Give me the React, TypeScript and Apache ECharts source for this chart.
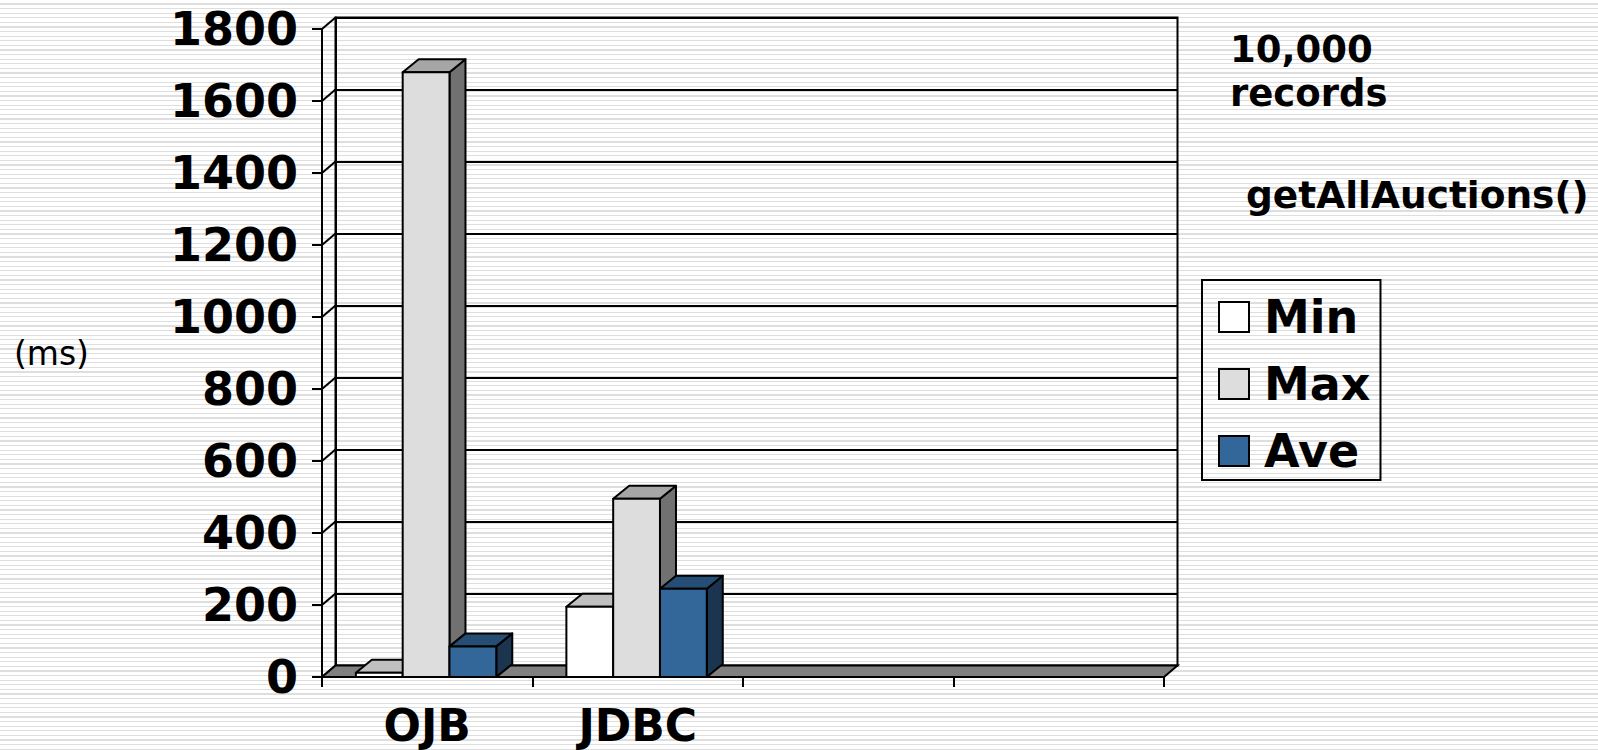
import React, { useEffect, useRef } from "react";
import * as echarts from "echarts";

// ---------- data ----------
const categories = ["OJB", "JDBC", "", ""];
const seriesNames = ["Min", "Max", "Ave"];
const minValues = [12, 195];
const maxValues = [1680, 495];
const aveValues = [85, 245];
const yTicks = [0, 200, 400, 600, 800, 1000, 1200, 1400, 1600, 1800];
const titleLines = ["10,000\nrecords", "getAllAuctions()"];
const yUnit = "(ms)";

// ---------- style / layout ----------
const FONT = "DejaVu Sans, Verdana, sans-serif";
const GRID = { left: 322, top: 29, width: 842, height: 648 };
const WALL_DX = 13.5;
const WALL_DY = 11.5;
const BAR_DX = 16;
const BAR_DY = 13;
const BAR_RATIO = 0.2223;
const CLUSTER_OFFSET = 0.339;
const LW = 2;

const faceColors = [
  { front: "#FFFFFF", top: "#C0C0C0", side: "#808080" },
  { front: "#DDDDDD", top: "#A6A6A6", side: "#717171" },
  { front: "#336699", top: "#264D73", side: "#1B3550" },
];

function barSeries(name: string, values: number[], idx: number) {
  const c = faceColors[idx];
  return {
    type: "custom",
    name,
    xAxisIndex: 0,
    yAxisIndex: 0,
    z: 10 + idx,
    itemStyle: { color: c.front, borderColor: "#000", borderWidth: 2 },
    data: values.map((v, i) => [i, v]),
    renderItem: (params: any, api: any) => {
      const cat = api.value(0);
      const val = api.value(1);
      const base = api.coord([cat, 0]);
      const top = api.coord([cat, val]);
      const band = api.size([1, 0])[0];
      const w = band * BAR_RATIO;
      const left = base[0] - band * CLUSTER_OFFSET + idx * w;
      const right = left + w;
      const yb = base[1];
      const yt = top[1];
      const stroke = { stroke: "#000", lineWidth: LW, lineJoin: "round" };
      return {
        type: "group",
        children: [
          {
            type: "polygon",
            shape: {
              points: [
                [right, yt],
                [right + BAR_DX, yt - BAR_DY],
                [right + BAR_DX, yb - BAR_DY],
                [right, yb],
              ],
            },
            style: { fill: c.side, ...stroke },
          },
          {
            type: "polygon",
            shape: {
              points: [
                [left, yt],
                [left + BAR_DX, yt - BAR_DY],
                [right + BAR_DX, yt - BAR_DY],
                [right, yt],
              ],
            },
            style: { fill: c.top, ...stroke },
          },
          {
            type: "rect",
            shape: { x: left, y: yt, width: w, height: yb - yt },
            style: { fill: c.front, ...stroke },
          },
        ],
      };
    },
  };
}

export default function App() {
  const ref = useRef<HTMLDivElement>(null);

  useEffect(() => {
    if (!ref.current) return;
    const chart = echarts.init(ref.current, null, { renderer: "svg" });

    const option: any = {
      animation: false,
      backgroundColor: "transparent",
      title: [
        {
          text: titleLines[0],
          left: 1230,
          top: 27,
          padding: 0,
          textStyle: { fontFamily: FONT, fontSize: 37, fontWeight: "bold", color: "#000", lineHeight: 44 },
        },
        {
          text: titleLines[1],
          left: 1246,
          top: 173,
          padding: 0,
          textStyle: { fontFamily: FONT, fontSize: 37.5, fontWeight: "bold", color: "#000", lineHeight: 44 },
        },
      ],
      legend: {
        orient: "vertical",
        left: 1202,
        top: 280,
        itemWidth: 30,
        itemHeight: 30,
        itemGap: 21,
        padding: [14, 10, 6, 16],
        borderColor: "#000",
        borderWidth: 2,
        selectedMode: false,
        icon: "rect",
        itemStyle: { borderColor: "#000", borderWidth: 2 },
        textStyle: { fontFamily: FONT, fontSize: 46, fontWeight: "bold", color: "#000", padding: [0, 0, 0, 10] },
        data: seriesNames,
      },
      grid: [
        { ...GRID, outerBoundsMode: "none" },
        {
          left: GRID.left + WALL_DX,
          top: GRID.top - WALL_DY,
          width: GRID.width,
          height: GRID.height,
          outerBoundsMode: "none",
          show: true,
          borderColor: "#000",
          borderWidth: LW,
          backgroundColor: "transparent",
        },
      ],
      xAxis: [
        {
          type: "category",
          gridIndex: 0,
          data: categories,
          axisLine: { show: true, lineStyle: { color: "#000", width: LW } },
          axisTick: { show: true, length: 10, lineStyle: { color: "#000", width: LW } },
          axisLabel: {
            fontFamily: FONT,
            fontSize: 44,
            fontWeight: "bold",
            color: "#000",
            margin: 30,
            lineHeight: 36,
          },
          splitLine: { show: false },
          z: 20,
        },
        {
          type: "category",
          gridIndex: 1,
          data: categories,
          show: false,
        },
      ],
      yAxis: [
        {
          type: "value",
          gridIndex: 0,
          min: 0,
          max: 1800,
          interval: 200,
          name: yUnit,
          nameLocation: "middle",
          nameRotate: 0,
          nameGap: 233,
          nameTextStyle: { fontFamily: FONT, fontSize: 33, fontWeight: "normal", color: "#000" },
          axisLine: { show: true, lineStyle: { color: "#000", width: LW } },
          axisTick: { show: true, length: 10, lineStyle: { color: "#000", width: LW } },
          axisLabel: {
            fontFamily: FONT,
            fontSize: 46,
            fontWeight: "bold",
            color: "#000",
            margin: 24,
            formatter: (v: number) => String(v),
          },
          splitLine: { show: false },
          z: 20,
        },
        {
          type: "value",
          gridIndex: 1,
          min: 0,
          max: 1800,
          interval: 200,
          axisLine: { show: true, lineStyle: { color: "#000", width: LW } },
          axisTick: { show: false },
          axisLabel: { show: false },
          splitLine: { show: true, lineStyle: { color: "#000", width: LW } },
        },
      ],
      series: [
        // left side wall diagonals at each tick
        {
          type: "custom",
          xAxisIndex: 0,
          yAxisIndex: 0,
          z: 3,
          silent: true,
          data: yTicks.map((v) => [0, v]),
          renderItem: (params: any, api: any) => {
            const p = api.coord([0, api.value(1)]);
            const band = api.size([1, 0])[0];
            const x0 = p[0] - band / 2;
            return {
              type: "line",
              shape: { x1: x0, y1: p[1], x2: x0 + WALL_DX, y2: p[1] - WALL_DY },
              style: { stroke: "#000", lineWidth: LW },
            };
          },
        },
        // floor
        {
          type: "custom",
          xAxisIndex: 0,
          yAxisIndex: 0,
          z: 4,
          silent: true,
          data: [[0, 0]],
          renderItem: (params: any, api: any) => {
            const band = api.size([1, 0])[0];
            const a = api.coord([0, 0]);
            const b = api.coord([categories.length - 1, 0]);
            const xl = a[0] - band / 2;
            const xr = b[0] + band / 2;
            const y = a[1];
            return {
              type: "polygon",
              shape: {
                points: [
                  [xl, y],
                  [xr, y],
                  [xr + WALL_DX, y - WALL_DY],
                  [xl + WALL_DX, y - WALL_DY],
                ],
              },
              style: { fill: "#808080", stroke: "#000", lineWidth: LW },
            };
          },
        },
        barSeries(seriesNames[0], minValues, 0),
        barSeries(seriesNames[1], maxValues, 1),
        barSeries(seriesNames[2], aveValues, 2),
      ],
    };

    chart.setOption(option);
    return () => chart.dispose();
  }, []);

  return (
    <div
      ref={ref}
      style={{
        position: "fixed",
        left: 0,
        top: 0,
        width: 1598,
        height: 750,
        background:
          "repeating-linear-gradient(to bottom, #ffffff 0px, #ffffff 3.4px, #dedede 3.4px, #dedede 4.6px)",
      }}
    />
  );
}
